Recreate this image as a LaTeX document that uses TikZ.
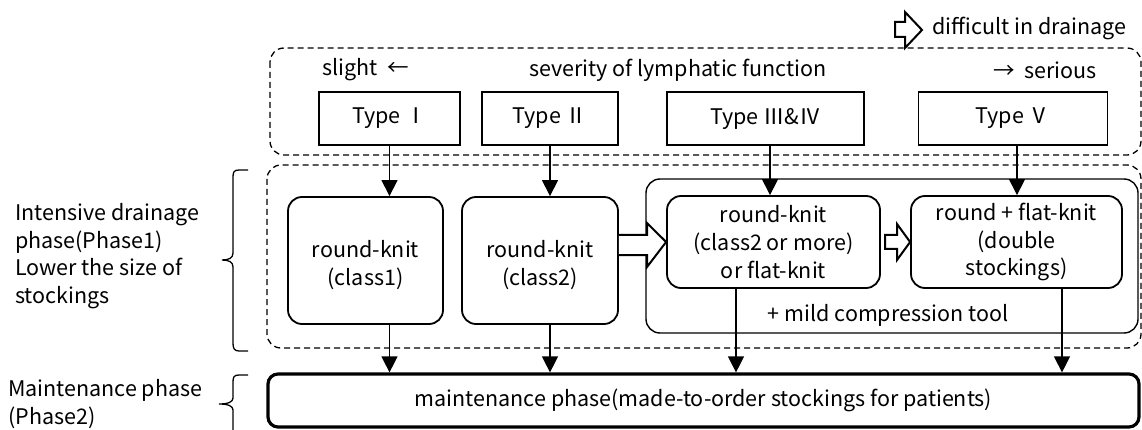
\documentclass[tikz,border=0pt]{standalone}
\usepackage{fontspec}
\setmainfont{Noto Sans CJK JP}
\usetikzlibrary{arrows.meta,calc}
\begin{document}
\begin{tikzpicture}[x=1pt,y=-1pt,
  every node/.style={font=\fontsize{21.5}{27.7}\selectfont, inner sep=0pt, align=center},
  typebox/.style={draw, line width=1.4pt, minimum height=53pt},
  knitbox/.style={draw, line width=1.8pt, rounded corners=14pt},
  dashbox/.style={draw, line width=1.3pt, dash pattern=on 6pt off 4pt, rounded corners=14pt},
  arr/.style={line width=1.2pt, -{Triangle[width=16pt,length=16pt]}},
  blockarrow/.style={draw, line width=2pt, fill=white, line join=miter},
  bracepath/.style={draw, line width=1.3pt},
]
\useasboundingbox (0,0) rectangle (1142,430);

% dashed group boxes
\draw[dashbox] (270,48) rectangle (1141,155);
\draw[dashbox] (267,165) rectangle (1141,348);

% difficult in drainage
\draw[blockarrow] (895,22) -- (905,22) -- (905,12) -- (922,30) -- (905,48) -- (905,37) -- (895,37) -- cycle;
\node[anchor=west] (diff) at (932,28) {difficult in drainage};

% severity labels
\node[anchor=west] (slight) at (322,70) {slight\ \ ←};
\node (sev) at (678,70) {severity of lymphatic function};
\node[anchor=east] (serious) at (1097,70) {→\ \ serious};

% type boxes
\node[typebox, minimum width=141pt] (T1) at (389.5,118.5) {Type Ⅰ};
\node[typebox, minimum width=136pt] (T2) at (550,118.5) {Type Ⅱ};
\node[typebox, minimum width=197pt] (T3) at (765.5,118.5) {Type Ⅲ\&Ⅳ};
\node[typebox, minimum width=189pt] (T5) at (1013,118.5) {Type Ⅴ};

% container
\node[draw, line width=1.4pt, rounded corners=14pt, minimum width=492pt, minimum height=154pt] (C) at (892,256) {};
\node (mild) at (888,315) {+ mild compression tool};

% knit boxes
\node[knitbox, minimum width=155pt, minimum height=127pt] (K1) at (365.5,260.5) {};
\node at (365.5,265) {round-knit\\(class1)};
\node[knitbox, minimum width=156pt, minimum height=127pt] (K2) at (540,260.5) {};
\node at (540,265) {round-knit\\(class2)};
\node[knitbox, minimum width=213pt, minimum height=92pt] (K3) at (773.5,242) {round-knit\\(class2 or more)\\or flat-knit};
\node[knitbox, minimum width=211pt, minimum height=92pt] (K4) at (1016.5,242) {round + flat-knit\\(double\\stockings)};

% maintenance
\node[draw, line width=3.2pt, rounded corners=10pt, minimum width=871pt, minimum height=53pt] (M) at (703.5,400.5) {maintenance phase(made-to-order stockings for patients)};

% block arrows between boxes
\draw[blockarrow] (K2.east |- 0,235) -- (647,235) -- (647,223) -- (K3.west) -- (647,267) -- (647,255) -- (K2.east |- 0,255);
\draw[blockarrow] (885,235) -- (897,235) -- (897,224) -- (K4.west) -- (897,260) -- (897,249) -- (885,249) -- cycle;

% vertical arrows
\draw[arr] (T1.south) -- (T1.south |- K1.north);
\draw[arr] (T1.south |- K1.south) -- (T1.south |- M.north);
\draw[arr] (T2.south) -- (T2.south |- K2.north);
\draw[arr] (T2.south |- K2.south) -- (T2.south |- M.north);
\draw[arr] ([xshift=4.5pt]T3.south) -- ([xshift=4.5pt]T3.south |- K3.north);
\draw[arr] ([xshift=-37.5pt]K3.south) -- ([xshift=-37.5pt]K3.south |- M.north);
\draw[arr] ([xshift=4pt]T5.south) -- ([xshift=4pt]T5.south |- K4.north);
\draw[arr] ([xshift=45.5pt]K4.south) -- ([xshift=45.5pt]K4.south |- M.north);

% braces
\draw[bracepath] (248,170) -- (239,170) .. controls (234,170) and (233,172) .. (233,177)
  -- (233,253) .. controls (233,258) and (229,260) .. (222,260)
  .. controls (229,260) and (233,262) .. (233,267)
  -- (233,343) .. controls (233,348) and (234,351) .. (239,351) -- (248,351);
\draw[bracepath] (248,375) -- (239,375) .. controls (234,375) and (233,377) .. (233,382)
  -- (233,398) .. controls (233,402) and (228,404) .. (219,404)
  .. controls (228,404) and (233,406) .. (233,410) -- (233,430);

% phase labels
\node[anchor=west, align=left] (P1) at (15,256) {Intensive drainage\\phase(Phase1)\\Lower the size of\\stockings};
\node[anchor=west, align=left] (P2) at (8,404) {Maintenance phase\\(Phase2)};
\end{tikzpicture}
\end{document}
